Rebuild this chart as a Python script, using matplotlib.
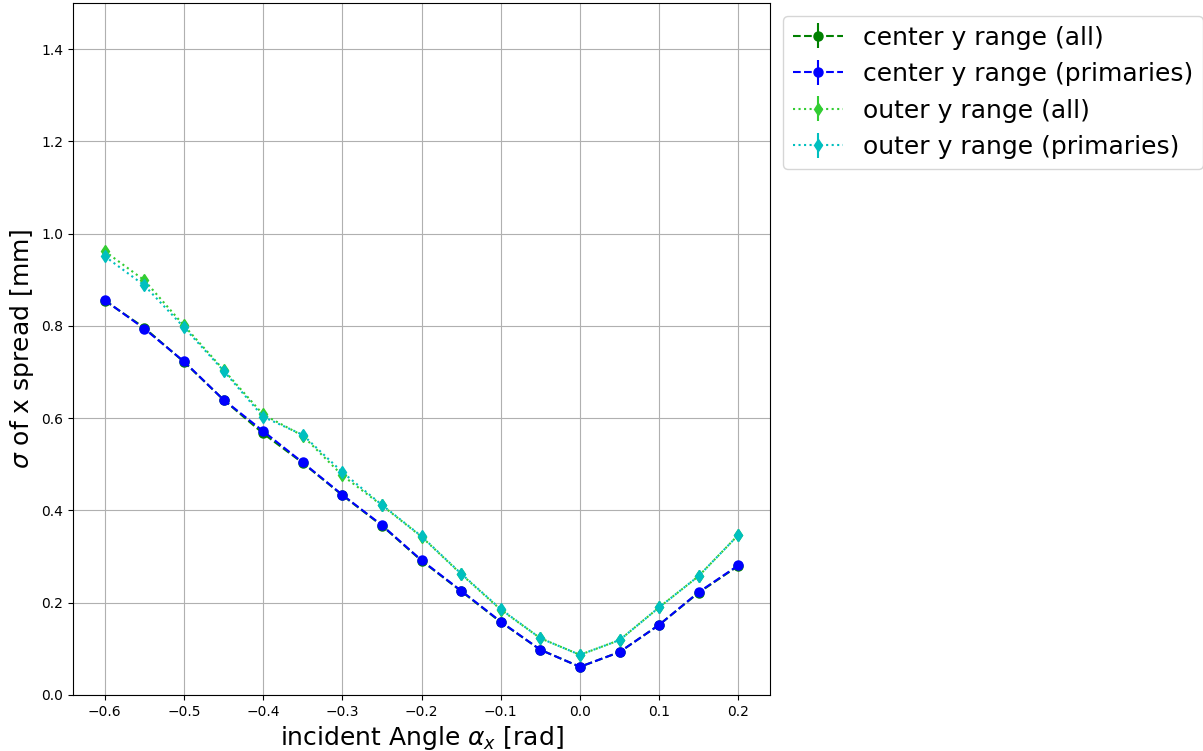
import matplotlib
matplotlib.use("Agg")
import matplotlib.pyplot as plt
import numpy as np

angles = [-0.6, -0.55, -0.5, -0.45, -0.4, -0.35, -0.3, -0.25, -0.2,
          -0.15, -0.1, -0.05, 0.0, 0.05, 0.1, 0.15, 0.2]

# sigma of x spread [mm]
center_all = [0.855, 0.796, 0.722, 0.640, 0.567, 0.503, 0.433, 0.367, 0.291,
              0.225, 0.158, 0.098, 0.061, 0.093, 0.152, 0.222, 0.280]
center_prim = [0.856, 0.794, 0.723, 0.640, 0.572, 0.504, 0.434, 0.368, 0.292,
               0.226, 0.159, 0.098, 0.061, 0.093, 0.152, 0.223, 0.281]
outer_all = [0.962, 0.899, 0.801, 0.705, 0.608, 0.562, 0.476, 0.411, 0.343,
             0.262, 0.185, 0.123, 0.087, 0.119, 0.190, 0.258, 0.347]
outer_prim = [0.951, 0.888, 0.797, 0.703, 0.603, 0.564, 0.483, 0.412, 0.344,
              0.263, 0.186, 0.123, 0.087, 0.119, 0.190, 0.258, 0.347]
err = 0.006

fig = plt.figure(figsize=(12.03, 7.51), dpi=100)
ax = fig.add_axes([0.0607, 0.0746, 0.5794, 0.9214])

ax.errorbar(angles, center_all, yerr=err, fmt='o--', color='g', markersize=6.5,
            label='center y range (all)')
ax.errorbar(angles, center_prim, yerr=err, fmt='o--', color='b', markersize=6.5,
            label='center y range (primaries)')
ax.errorbar(angles, outer_all, yerr=err, fmt='d:', color='limegreen', markersize=6.5,
            label='outer y range (all)')
ax.errorbar(angles, outer_prim, yerr=err, fmt='d:', color='c', markersize=6.5,
            label='outer y range (primaries)')

ax.set_ylim(0, 1.5)
ax.set_yticks(np.arange(0, 1.41, 0.2))
ax.grid(True)
ax.set_xlabel(r'incident Angle $\alpha_x$ [rad]', fontsize=18)
ax.set_ylabel(r'$\sigma$ of x spread [mm]', fontsize=18)
ax.legend(loc='upper left', bbox_to_anchor=(1.0, 1.0), fontsize=18)

fig.savefig('out.png', dpi=100)
